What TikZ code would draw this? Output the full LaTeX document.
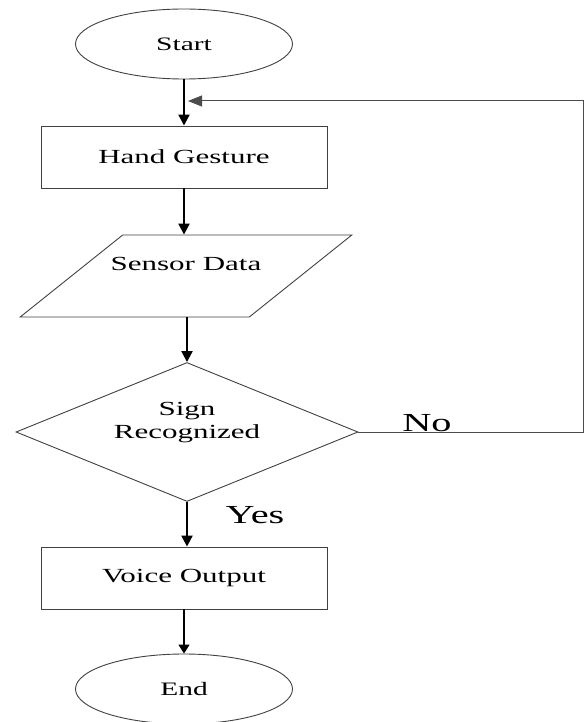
\documentclass[tikz,border=0pt]{standalone}
\usepackage{fontspec}
\setmainfont{Liberation Serif}[FakeStretch=1.55]
\usetikzlibrary{shapes.geometric,arrows.meta}

\begin{document}
\begin{tikzpicture}[x=1pt,y=-1pt,
    outline/.style={draw=black!75,line width=0.9pt},
    terminal/.style={outline,ellipse,inner sep=0pt,minimum width=217pt,minimum height=70pt,font=\fontsize{19}{22}\selectfont},
    process/.style={outline,rectangle,inner sep=0pt,minimum width=286pt,minimum height=62pt,font=\fontsize{20}{24}\selectfont},
    flowtext/.style={inner sep=0pt,align=center,font=\fontsize{20}{23}\selectfont},
    answer/.style={inner sep=0pt,anchor=base,font=\fontsize{26}{28}\selectfont},
    flow/.style={line width=2.2pt,-{Triangle[length=11pt,width=11pt]}},
    loopline/.style={draw=black!70,line width=1pt,-{Triangle[length=14pt,width=11pt]}}]
      \useasboundingbox (0,0) rectangle (585,722);

      %draw the blocks
      \node[terminal] (start) at (184,44) {\raisebox{-3pt}{Start}};
      \node[process] (hand) at (184,157) {Hand Gesture};
      \node[outline,trapezium,trapezium left angle=51,trapezium right angle=129,
            trapezium stretches=true,minimum width=332pt,minimum height=82pt] (sensor) at (186,276) {};
      \node[flowtext] (sensortext) at (186,264) {Sensor Data};
      \node[outline,diamond,inner sep=0pt,minimum width=342pt,minimum height=139pt] (dia) at (187,432) {};
      \node[flowtext] (diatext) at (187,423) {Sign\\Recognized};
      \node[process] (voice) at (184,578) {Voice Output};
      \node[terminal] (end) at (184,689) {End};

      %draw arrows
      \coordinate (join) at (188,101);
      \coordinate (loop) at (583,101);
      \draw[flow] (start) -- (hand);
      \draw[flow] (hand.south) -- (hand.south |- sensor.north);
      \draw[flow] (sensor.south -| dia.north) -- (dia.north);
      \draw[flow] (dia.south) -- (dia.south |- voice.north);
      \draw[line width=1.4pt,-{Triangle[length=9pt,width=11pt]}] (voice.south) -- (end.north);
      \draw[loopline] (dia.east) -| (loop) -- (join);

      % draw answers
      \node[answer] (no) at (427,431) {No};
      \node[answer] (yes) at (255,523) {Yes};
\end{tikzpicture}
\end{document}
